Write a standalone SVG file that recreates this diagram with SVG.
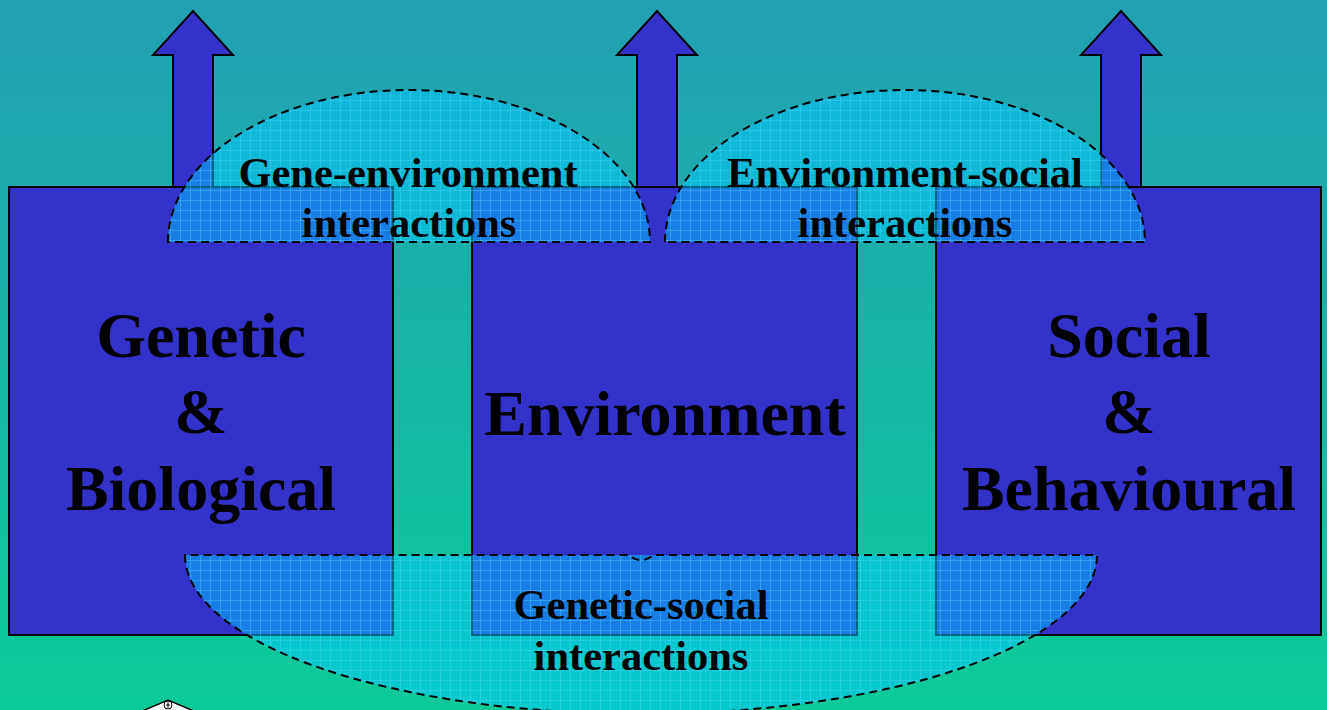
<svg xmlns="http://www.w3.org/2000/svg" width="1327" height="710" viewBox="0 0 1327 710">
  <defs>
    <linearGradient id="bg" x1="0" y1="0" x2="0" y2="1">
      <stop offset="0" stop-color="#23a0b4"/>
      <stop offset="1" stop-color="#0bcb98"/>
    </linearGradient>
    <pattern id="grid" width="10" height="10" patternUnits="userSpaceOnUse">
      <path d="M0,0.5 H10 M0.5,0 V10" stroke="#4fd8ff" stroke-width="1" stroke-opacity="0.4" fill="none"/>
    </pattern>
    <style>
      .box { fill: #3333cc; stroke: #000; stroke-width: 2; }
      .arrow { fill: #3333cc; stroke: #000; stroke-width: 2; stroke-linejoin: miter; }
      .halo { fill: #00c8ff; fill-opacity: 0.5; }
      .grid { fill: url(#grid); }
      .dash { fill: none; stroke: #000; stroke-width: 2; stroke-dasharray: 8 5; }
      .big { font-family: "Liberation Serif", "Times New Roman", serif; font-weight: bold; font-size: 64px; fill: #000; text-anchor: middle; }
      .small { font-family: "Liberation Serif", "Times New Roman", serif; font-weight: bold; font-size: 42.5px; fill: #000; text-anchor: middle; }
    </style>
  </defs>

  <rect x="0" y="0" width="1327" height="710" fill="url(#bg)"/>

  <g id="arrows">
    <polygon class="arrow" points="173,187 173,55 153,55 193,11 233,55 213,55 213,187"/>
    <polygon class="arrow" points="637,187 637,55 617,55 657,11 697,55 677,55 677,187"/>
    <polygon class="arrow" points="1101,187 1101,55 1081,55 1121,11 1161,55 1141,55 1141,187"/>
  </g>

  <g id="node-genetic">
    <rect class="box" x="9" y="187" width="384" height="448"/>
  </g>
  <g id="node-environment">
    <rect class="box" x="472" y="187" width="385" height="448"/>
  </g>
  <g id="node-social">
    <rect class="box" x="936" y="187" width="385" height="448"/>
  </g>

  <g id="interaction-gene-env">
    <path class="halo" d="M168,242 A241,152 0 0 1 650,242 Z"/>
    <path class="grid" d="M168,242 A241,152 0 0 1 650,242 Z"/>
    <path class="dash" d="M168,242 A241,152 0 0 1 650,242 Z"/>
  </g>
  <g id="interaction-env-social">
    <path class="halo" d="M665,242 A240,152 0 0 1 1145,242 Z"/>
    <path class="grid" d="M665,242 A240,152 0 0 1 1145,242 Z"/>
    <path class="dash" d="M665,242 A240,152 0 0 1 1145,242 Z"/>
  </g>
  <g id="interaction-gen-social">
    <path class="halo" d="M185,555 A456,159 0 0 0 1097,555 Z"/>
    <path class="grid" d="M185,555 A456,159 0 0 0 1097,555 Z"/>
    <path class="dash" d="M185,555 A456,159 0 0 0 1097,555 L653,555 Q648,560 641,560 Q634,560 629,555 Z"/>
  </g>

  <g id="labels">
    <text class="big" x="201" y="357">Genetic</text>
    <text class="big" x="201" y="433">&amp;</text>
    <text class="big" x="201" y="510">Biological</text>
    <text class="big" x="665" y="435">Environment</text>
    <text class="big" x="1129" y="357">Social</text>
    <text class="big" x="1129" y="433">&amp;</text>
    <text class="big" x="1129" y="510">Behavioural</text>
    <text class="small" x="408" y="187">Gene-environment</text>
    <text class="small" x="409" y="237">interactions</text>
    <text class="small" x="905" y="187">Environment-social</text>
    <text class="small" x="905" y="237">interactions</text>
    <text class="small" x="641" y="619">Genetic-social</text>
    <text class="small" x="641" y="670">interactions</text>
  </g>

  <g id="corner-shape">
    <polygon points="140,712 168,700 196,712" fill="#fff" stroke="#000" stroke-width="1.5"/>
    <circle cx="168" cy="705" r="4" fill="#fff" stroke="#000" stroke-width="1"/>
    <path d="M168,702 V708 M166,705 H170" stroke="#000" stroke-width="1"/>
  </g>
</svg>
